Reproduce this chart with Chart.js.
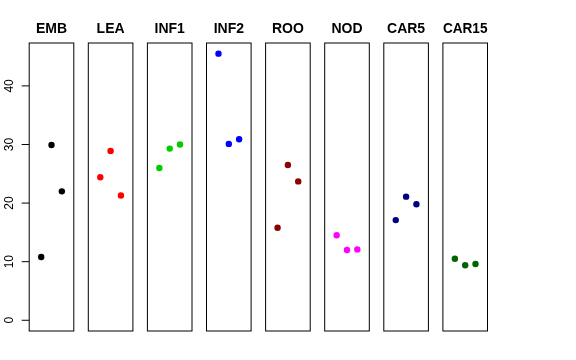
<!DOCTYPE html>
<html>
<head>
<meta charset="utf-8">
<script src="https://cdn.jsdelivr.net/npm/chart.js@4"></script>
<style>
  body { margin: 0; background: #fff; }
  #wrap { position: relative; width: 576px; height: 360px; overflow: hidden; }
  #wrap canvas { position: absolute; top: 0; }
</style>
</head>
<body>
<div id="wrap"></div>
<script>
// panel names and colours
const groups = ['EMB', 'LEA', 'INF1', 'INF2', 'ROO', 'NOD', 'CAR5', 'CAR15'];
const groupColors = ['#000000', '#FF0000', '#00CD00', '#0000FF', '#8B0000', '#FF00FF', '#000080', '#006400'];

// x position of each replicate inside a panel
const reps = [1, 2, 3];

// values
const emb = [10.8, 29.9, 22.0];
const lea = [24.4, 28.9, 21.3];
const inf1 = [26.0, 29.3, 30.0];
const inf2 = [45.5, 30.1, 30.9];
const roo = [15.8, 26.5, 23.7];
const nod = [14.5, 12.0, 12.1];
const car5 = [17.1, 21.1, 19.8];
const car15 = [10.5, 9.4, 9.6];

const yTicks = [0, 10, 20, 30, 40];

const allValues = [emb, lea, inf1, inf2, roo, nod, car5, car15];

const FONT = "'Liberation Sans', Arial, Helvetica, sans-serif";

// draws the box round each panel
const boxPlugin = {
  id: 'box',
  afterDraw(chart) {
    const a = chart.chartArea;
    const ctx = chart.ctx;
    ctx.save();
    ctx.strokeStyle = '#000';
    ctx.lineWidth = 1;
    ctx.strokeRect(a.left, a.top, a.right - a.left, a.bottom - a.top);
    ctx.restore();
  }
};

// R style left axis with rotated labels (only first panel)
const leftAxisPlugin = {
  id: 'leftAxis',
  afterDraw(chart) {
    const y = chart.scales.y;
    const left = chart.chartArea.left;
    const ctx = chart.ctx;
    ctx.save();
    ctx.strokeStyle = '#000';
    ctx.fillStyle = '#000';
    ctx.lineWidth = 1;
    ctx.font = '12px ' + FONT;
    ctx.textAlign = 'center';
    ctx.textBaseline = 'middle';
    yTicks.forEach(v => {
      const py = y.getPixelForValue(v);
      ctx.beginPath();
      ctx.moveTo(left - 7.5, py);
      ctx.lineTo(left, py);
      ctx.stroke();
      ctx.save();
      ctx.translate(left - 19.5, py);
      ctx.rotate(-Math.PI / 2);
      ctx.fillText(String(v), 0, 0);
      ctx.restore();
    });
    ctx.restore();
  }
};

const wrap = document.getElementById('wrap');
const panelW = 44.6;
const step = 59.1;
const firstLeft = 29.2;

groups.forEach((name, i) => {
  const panelLeft = firstLeft + i * step;
  const divLeft = i === 0 ? 0 : Math.floor(panelLeft) - 4;
  const padLeft = panelLeft - divLeft;
  const padRight = 4;
  const w = Math.ceil(padLeft + panelW + padRight);

  const canvas = document.createElement('canvas');
  canvas.width = w;
  canvas.height = 336;
  canvas.style.left = divLeft + 'px';
  canvas.style.width = w + 'px';
  canvas.style.height = '336px';
  wrap.appendChild(canvas);

  const pts = reps.map((x, k) => ({ x: x, y: allValues[i][k] }));

  new Chart(canvas, {
    type: 'scatter',
    data: {
      datasets: [{
        data: pts,
        backgroundColor: groupColors[i],
        borderColor: groupColors[i],
        pointRadius: 3.2,
        pointHoverRadius: 3.2,
        borderWidth: 0,
        clip: false
      }]
    },
    options: {
      responsive: false,
      animation: false,
      events: [],
      layout: {
        padding: { left: padLeft, right: w - padLeft - panelW, top: 0, bottom: 5 }
      },
      plugins: {
        legend: { display: false },
        tooltip: { enabled: false },
        title: {
          display: true,
          text: name,
          fullSize: false,
          color: '#000',
          font: { family: FONT, size: 14, weight: 'bold', lineHeight: 1.2 },
          padding: { top: 20.8, bottom: 5.4 }
        }
      },
      scales: {
        x: { type: 'linear', min: -0.16, max: 4.16, display: false },
        y: { type: 'linear', min: -1.83, max: 47.32, display: false }
      }
    },
    plugins: i === 0 ? [boxPlugin, leftAxisPlugin] : [boxPlugin]
  });
});
</script>
</body>
</html>
